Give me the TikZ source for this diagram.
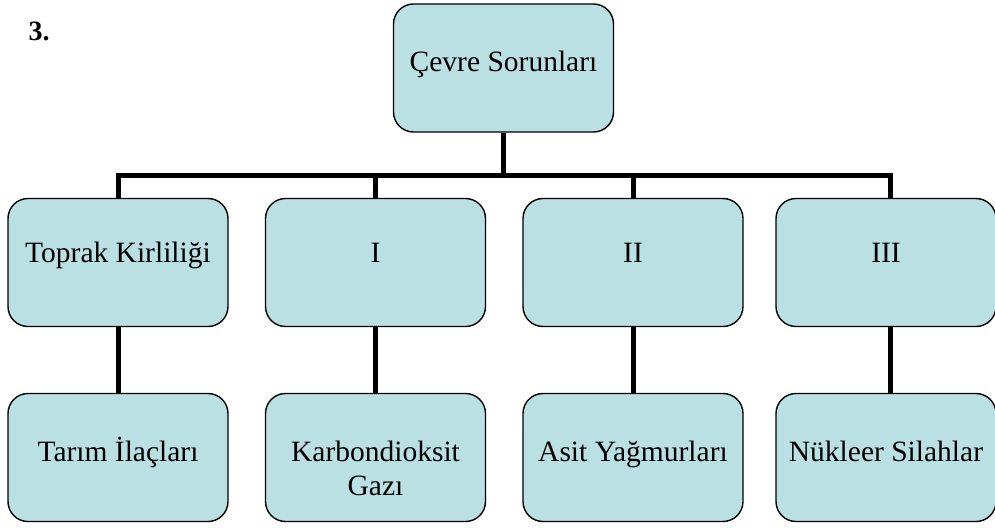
\documentclass[tikz,border=0pt]{standalone}
\usepackage{fontspec}
\setmainfont{Liberation Serif}
\definecolor{boxfill}{RGB}{187,224,227}
\begin{document}
\begin{tikzpicture}[x=1pt,y=-1pt,
  box/.style={draw=black,line width=1.4pt,fill=boxfill,rounded corners=20pt,
    minimum width=220pt,minimum height=128pt,inner sep=0pt,
    font=\fontsize{29.5}{34}\selectfont,align=center},
  midtext/.style={text height=20pt,text depth=20pt},
  lowtext/.style={text height=20pt,text depth=12pt},
  toptext/.style={text height=20pt,text depth=14pt},
  twotext/.style={text height=100pt,text depth=25pt},
  conn/.style={line width=5pt,line join=miter,line cap=butt}]
\useasboundingbox (0,0) rectangle (995,527);
\node[font=\fontsize{28}{34}\selectfont\bfseries,anchor=base west] (num) at (25,41) {3.};
\node[box,toptext] (t) at (503.5,68) {Çevre Sorunları};
\node[box,midtext] (b1) at (118,262.5) {Toprak Kirliliği};
\node[box,midtext] (b2) at (375.5,262.5) {I};
\node[box,midtext] (b3) at (633,262.5) {II};
\node[box,midtext] (b4) at (886,262.5) {III};
\node[box,lowtext] (c1) at (118,457.5) {Tarım İlaçları};
\node[box,twotext] (c2) at (375.5,457.5) {Karbondioksit\\Gazı};
\node[box,lowtext] (c3) at (633,457.5) {Asit Yağmurları};
\node[box,lowtext] (c4) at (886,457.5) {Nükleer Silahlar};
\coordinate (barL) at (118,175);
\coordinate (barR) at (890,175);
\draw[conn] (b1.north) -- (b1.north |- barL) -- (barR) -- (barR |- b4.north);
\draw[conn] (t.south) -- (t.south |- barL);
\draw[conn] (b2.north) -- (b2.north |- barL);
\draw[conn] (b3.north) -- (b3.north |- barL);
\draw[conn] (b1.south) -- (c1.north);
\draw[conn] (b2.south) -- (c2.north);
\draw[conn] (b3.south) -- (c3.north);
\draw[conn] (barR |- b4.south) -- (barR |- c4.north);
\end{tikzpicture}
\end{document}
